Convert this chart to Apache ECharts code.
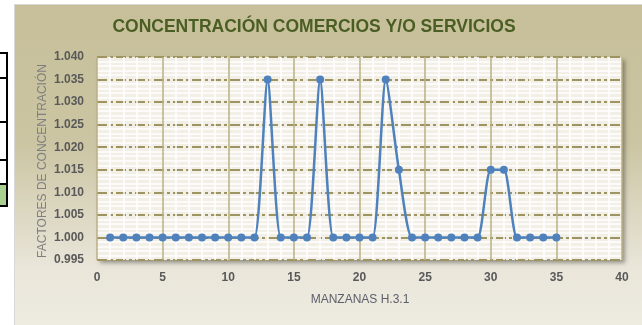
<!DOCTYPE html>
<html>
<head>
<meta charset="utf-8">
<script src="https://cdn.jsdelivr.net/npm/echarts@6/dist/echarts.min.js"></script>
<style>
  html, body { margin: 0; padding: 0; background: #ffffff; }
  #chart { width: 642px; height: 325px; }
</style>
</head>
<body>
<div id="chart"></div>
<script>
// Manzanas (block numbers) and their concentration factors
const manzanas = [1, 2, 3, 4, 5, 6, 7, 8, 9, 10, 11, 12, 13, 14, 15, 16, 17, 18,
                  19, 20, 21, 22, 23, 24, 25, 26, 27, 28, 29, 30, 31, 32, 33, 34, 35];
const factores = [1.000, 1.000, 1.000, 1.000, 1.000, 1.000, 1.000, 1.000, 1.000, 1.000,
                  1.000, 1.000, 1.035, 1.000, 1.000, 1.000, 1.035, 1.000, 1.000, 1.000,
                  1.000, 1.035, 1.015, 1.000, 1.000, 1.000, 1.000, 1.000, 1.000, 1.015,
                  1.015, 1.000, 1.000, 1.000, 1.000];

const titulo = 'CONCENTRACIÓN COMERCIOS Y/O SERVICIOS';
const tituloEjeY = 'FACTORES DE CONCENTRACIÓN';
const tituloEjeX = 'MANZANAS H.3.1';

// Axis ranges and tick steps
const xMin = 0, xMax = 40, xStep = 5;
const yMin = 0.995, yMax = 1.040, yStep = 0.005;

const puntos = manzanas.map((m, i) => [m, factores[i]]);

const chart = echarts.init(document.getElementById('chart'), null, { renderer: 'canvas' });

const olive = '#9d9462';
const oliveLight = '#b9b084';
const fontFam = '"Liberation Sans", Arial, sans-serif';

chart.setOption({
  animation: false,
  graphic: [
    // panel behind the chart
    {
      type: 'rect', z: -10, silent: true,
      shape: { x: 14, y: 4, width: 640, height: 330 },
      style: { fill: '#d8d8d8' }
    },
    {
      type: 'rect', z: -9, silent: true,
      shape: { x: 15, y: 5, width: 640, height: 330 },
      style: {
        fill: new echarts.graphic.LinearGradient(0, 0, 0, 1, [
          { offset: 0, color: '#c6bf99' },
          { offset: 0.42, color: '#cbc5a3' },
          { offset: 0.8, color: '#eae6da' },
          { offset: 1, color: '#eeebe1' }
        ])
      }
    },
    // edge of the neighbouring table on the left
    { type: 'rect', z: -8, silent: true, shape: { x: 0, y: 185, width: 7, height: 20 }, style: { fill: '#a9d08e' } },
    { type: 'rect', z: -7, silent: true, shape: { x: 6, y: 52, width: 2, height: 155 }, style: { fill: '#000' } },
    { type: 'rect', z: -7, silent: true, shape: { x: 0, y: 52, width: 8, height: 2 }, style: { fill: '#000' } },
    { type: 'rect', z: -7, silent: true, shape: { x: 0, y: 77, width: 8, height: 2 }, style: { fill: '#000' } },
    { type: 'rect', z: -7, silent: true, shape: { x: 0, y: 121, width: 8, height: 2 }, style: { fill: '#000' } },
    { type: 'rect', z: -7, silent: true, shape: { x: 0, y: 159, width: 8, height: 2 }, style: { fill: '#000' } },
    { type: 'rect', z: -7, silent: true, shape: { x: 0, y: 183, width: 8, height: 2 }, style: { fill: '#000' } },
    { type: 'rect', z: -7, silent: true, shape: { x: 0, y: 205, width: 8, height: 2 }, style: { fill: '#000' } },
    // titles
    {
      type: 'text', z: 10, x: 314, y: 27,
      style: {
        text: titulo, fill: '#4a5e24',
        font: 'bold 17.5px ' + fontFam,
        align: 'center', verticalAlign: 'middle',
        shadowColor: 'rgba(70,90,30,0.6)', shadowBlur: 3
      }
    },
    {
      type: 'text', z: 10, x: 43, y: 161, rotation: Math.PI / 2,
      style: {
        text: tituloEjeY, fill: '#7f7f7f',
        font: '12px ' + fontFam,
        align: 'center', verticalAlign: 'middle'
      }
    },
    {
      type: 'text', z: 10, x: 360, y: 300,
      style: {
        text: tituloEjeX, fill: '#5b5f6b',
        font: '12px ' + fontFam,
        align: 'center', verticalAlign: 'middle'
      }
    }
  ],
  grid: {
    left: 97, right: 20, top: 57, bottom: 65,
    show: true,
    backgroundColor: '#f1efe6',
    borderWidth: 0,
    shadowColor: 'rgba(0,0,0,0.35)',
    shadowBlur: 4,
    shadowOffsetX: 3,
    shadowOffsetY: 3
  },
  xAxis: {
    type: 'value', min: xMin, max: xMax, interval: xStep,
    axisLine: { show: false },
    axisTick: { show: false },
    axisLabel: { color: '#595959', fontWeight: 'bold', fontSize: 12, fontFamily: fontFam, margin: 12 },
    splitLine: { show: true, lineStyle: { color: oliveLight, width: 1.5 } },
    minorTick: { show: false, splitNumber: 5 },
    minorSplitLine: { show: true, lineStyle: { color: '#ffffff', width: 1.5 } }
  },
  yAxis: {
    type: 'value', min: yMin, max: yMax, interval: yStep,
    axisLine: { show: false },
    axisTick: { show: false },
    axisLabel: {
      color: '#595959', fontWeight: 'bold', fontSize: 12, fontFamily: fontFam, margin: 13,
      formatter: v => v.toFixed(3)
    },
    splitLine: { show: true, lineStyle: { color: olive, width: 2, type: [10, 3, 3, 3] } },
    minorTick: { show: false, splitNumber: 5 },
    minorSplitLine: { show: true, lineStyle: { color: '#ffffff', width: 1.5 } }
  },
  series: [{
    type: 'line',
    data: puntos,
    smooth: 0.22,
    symbol: 'circle',
    symbolSize: 8,
    lineStyle: { color: '#4f81bd', width: 2.5 },
    itemStyle: { color: '#4f81bd' },
    z: 5
  }]
});
</script>
</body>
</html>
